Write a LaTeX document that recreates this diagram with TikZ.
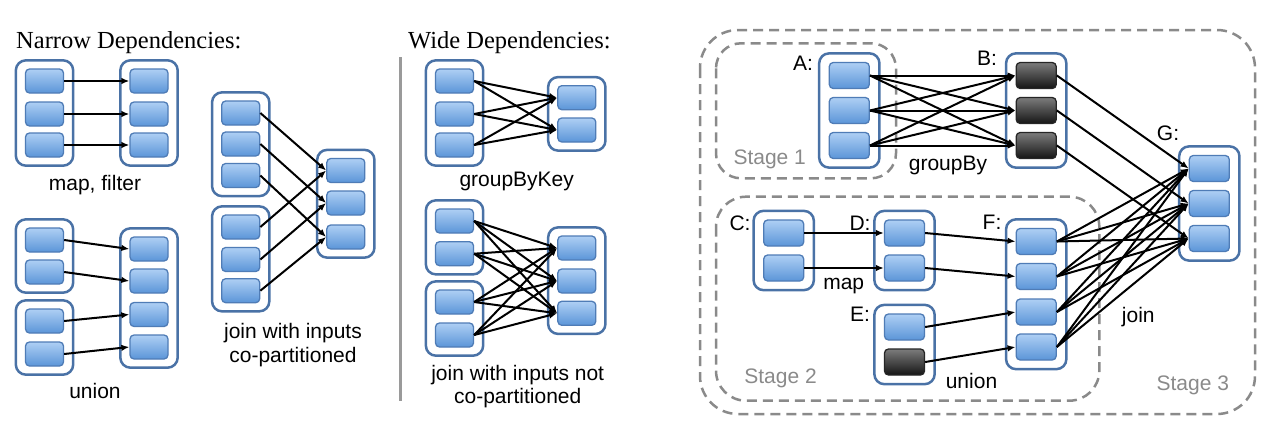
\documentclass[tikz,border=0pt]{standalone}
\usepackage{fontspec}
\setmainfont{Liberation Serif}
\setsansfont{Liberation Sans}
\usetikzlibrary{arrows.meta,fit,backgrounds}
\definecolor{contblue}{HTML}{4A72A6}
\definecolor{boxtop}{HTML}{AECFF4}
\definecolor{boxbot}{HTML}{5B95D8}
\definecolor{boxline}{HTML}{4F7CB6}
\definecolor{darktop}{HTML}{7C7C7C}
\definecolor{darkbot}{HTML}{151515}
\definecolor{stagegray}{HTML}{8A8A8A}
\definecolor{sepgray}{HTML}{9A9A9A}
\begin{document}
\begin{tikzpicture}[x=1pt,y=-1pt,
 pbox/.style={draw=boxline, line width=1.3pt, rounded corners=4pt, top color=boxtop, bottom color=boxbot, minimum width=38pt, minimum height=24pt, inner sep=0pt},
 rbox/.style={pbox, minimum width=40pt, minimum height=26pt},
 dbox/.style={rbox, draw=black!85, top color=darktop, bottom color=darkbot},
 cont/.style={draw=contblue, line width=2.5pt, fill=white, rounded corners=10pt, inner xsep=9pt, inner ysep=8pt},
 rcont/.style={cont, inner xsep=9.5pt, inner ysep=8.5pt},
 arr/.style={line width=2pt, -{Latex[length=8pt,width=6.5pt]}},
 lab/.style={font=\sffamily\fontsize{21}{23.7}\selectfont, inner sep=0pt, align=center},
 ttl/.style={font=\fontsize{24.5}{28}\selectfont, inner sep=0pt, anchor=base west},
 stage/.style={lab, text=stagegray},
 dframe/.style={draw=stagegray, line width=2.5pt, dash pattern=on 10pt off 6pt},
]
\useasboundingbox (0,0) rectangle (1280,447);

% ---------- titles and separator
\node[ttl] (tn) at (16,48) {Narrow Dependencies:};
\node[ttl] (tw) at (408,48) {Wide Dependencies:};
\coordinate (s1) at (400,57);
\coordinate (s2) at (400,401);
\draw[sepgray, line width=3pt] (s1) -- (s2);

% ---------- map, filter
\foreach \i/\y in {1/81,2/114,3/145} {
  \node[pbox] (mf\i) at (44.5,\y) {};
  \node[pbox] (mg\i) at (149,\y) {};
}
\foreach \i in {1,2,3} \draw[arr] (mf\i.east) -- (mg\i.west);
\node[lab] (lmf) at (95,185) {map, filter};

% ---------- union
\node[pbox] (ua1) at (44.5,240) {};
\node[pbox] (ua2) at (44.5,272) {};
\node[pbox] (ub1) at (44.5,321) {};
\node[pbox] (ub2) at (44.5,354) {};
\foreach \i/\y in {1/249,2/281,3/314.5,4/347} \node[pbox] (uc\i) at (149,\y) {};
\draw[arr] (ua1.east) -- (uc1.west);
\draw[arr] (ua2.east) -- (uc2.west);
\draw[arr] (ub1.east) -- (uc3.west);
\draw[arr] (ub2.east) -- (uc4.west);
\node[lab] (lu) at (95,391) {union};

% ---------- join co-partitioned
\foreach \i/\y in {1/113,2/144,3/175.5} \node[pbox] (ja\i) at (240.7,\y) {};
\foreach \i/\y in {1/227,2/259.5,3/290.7} \node[pbox] (jb\i) at (240.7,\y) {};
\foreach \i/\y in {1/170.5,2/203,3/237} \node[pbox] (jc\i) at (345.8,\y) {};
\foreach \i in {1,2,3} {
  \draw[arr] (ja\i.east) -- (jc\i.west);
  \draw[arr] (jb\i.east) -- (jc\i.west);
}
\node[lab] (lj) at (293,345) {join with inputs\\co-partitioned};

% ---------- groupByKey
\foreach \i/\y in {1/81,2/114,3/145} \node[pbox] (ga\i) at (454.5,\y) {};
\foreach \i/\y in {1/97.7,2/130} \node[pbox] (gb\i) at (576.8,\y) {};
\foreach \i in {1,2,3} \foreach \j in {1,2} \draw[arr] (ga\i.east) -- (gb\j.west);
\node[lab] (lg) at (516.7,181.5) {groupByKey};

% ---------- join not co-partitioned
\node[pbox] (na1) at (454.5,221) {};
\node[pbox] (na2) at (454.5,253.7) {};
\node[pbox] (nb1) at (454.5,302) {};
\node[pbox] (nb2) at (454.5,335) {};
\foreach \i/\y in {1/248,2/281,3/313.3} \node[pbox] (nc\i) at (576.8,\y) {};
\foreach \s in {na1,na2,nb1,nb2} \foreach \j in {1,2,3} \draw[arr] (\s.east) -- (nc\j.west);
\node[lab] (ln) at (517.7,386.7) {join with inputs not\\co-partitioned};

% ---------- right panel
\foreach \i/\y in {1/75.5,2/110.5,3/145.5} {
  \node[rbox] (a\i) at (849.3,\y) {};
  \node[dbox] (b\i) at (1036.2,\y) {};
}
\foreach \i/\y in {1/168.5,2/203.5,3/238.5} \node[rbox] (g\i) at (1209.3,\y) {};
\foreach \i/\y in {1/233,2/268} {
  \node[rbox] (c\i) at (783.7,\y) {};
  \node[rbox] (d\i) at (904.5,\y) {};
}
\node[rbox] (e1) at (904.5,327) {};
\node[dbox] (e2) at (904.5,362) {};
\foreach \i/\y in {1/241.5,2/276.5,3/312,4/347} \node[rbox] (f\i) at (1036.2,\y) {};

\foreach \i in {1,2,3} \foreach \j in {1,2,3} \draw[arr] (a\i.east) -- (b\j.west);
\foreach \i in {1,2,3} \draw[arr] (b\i.east) -- (g\i.west);
\foreach \i in {1,2} \draw[arr] (c\i.east) -- (d\i.west);
\draw[arr] (d1.east) -- (f1.west);
\draw[arr] (d2.east) -- (f2.west);
\draw[arr] (e1.east) -- (f3.west);
\draw[arr] (e2.east) -- (f4.west);
\foreach \i in {1,2,3,4} \foreach \j in {1,2,3} \draw[arr] (f\i.east) -- (g\j.west);

\node[lab] (la) at (803,63) {A:};
\node[lab] (lb) at (987,58) {B:};
\node[lab] (lgg) at (1168,133) {G:};
\node[lab] (lc) at (740,223) {C:};
\node[lab] (ld) at (860,223) {D:};
\node[lab] (le) at (860,314) {E:};
\node[lab] (lf) at (992,222) {F:};
\node[lab] (lgb) at (948,165) {groupBy};
\node[lab] (lm) at (843.7,286.5) {map};
\node[lab] (lun) at (971.5,381) {union};
\node[lab] (ljo) at (1138.3,316.7) {join};
\node[stage] (st1) at (769.7,159) {Stage 1};
\node[stage] (st2) at (780.5,378.3) {Stage 2};
\node[stage] (st3) at (1192.8,385) {Stage 3};

\begin{pgfonlayer}{background}
  \draw[dframe, rounded corners=38pt] (700,30) rectangle (1255,414);
  \draw[dframe, rounded corners=25pt] (716,43.3) rectangle (896,178.3);
  \draw[dframe, rounded corners=30pt] (716,196.7) rectangle (1099.3,400.7);
  \node[cont, fit=(mf1)(mf3)] (mfA) {};
  \node[cont, fit=(mg1)(mg3)] (mgA) {};
  \node[cont, fit=(ua1)(ua2)] (uaA) {};
  \node[cont, fit=(ub1)(ub2)] (ubA) {};
  \node[cont, fit=(uc1)(uc4)] (ucA) {};
  \node[cont, fit=(ja1)(ja3)] (jaA) {};
  \node[cont, fit=(jb1)(jb3)] (jbA) {};
  \node[cont, fit=(jc1)(jc3)] (jcA) {};
  \node[cont, fit=(ga1)(ga3)] (gaA) {};
  \node[cont, fit=(gb1)(gb2)] (gbA) {};
  \node[cont, fit=(na1)(na2)] (naA) {};
  \node[cont, fit=(nb1)(nb2)] (nbA) {};
  \node[cont, fit=(nc1)(nc3)] (ncA) {};
  \node[rcont, fit=(a1)(a3)] (A) {};
  \node[rcont, fit=(b1)(b3)] (B) {};
  \node[rcont, fit=(g1)(g3)] (G) {};
  \node[rcont, fit=(c1)(c2)] (C) {};
  \node[rcont, fit=(d1)(d2)] (D) {};
  \node[rcont, fit=(e1)(e2)] (E) {};
  \node[rcont, fit=(f1)(f4)] (F) {};
\end{pgfonlayer}
\end{tikzpicture}
\end{document}
